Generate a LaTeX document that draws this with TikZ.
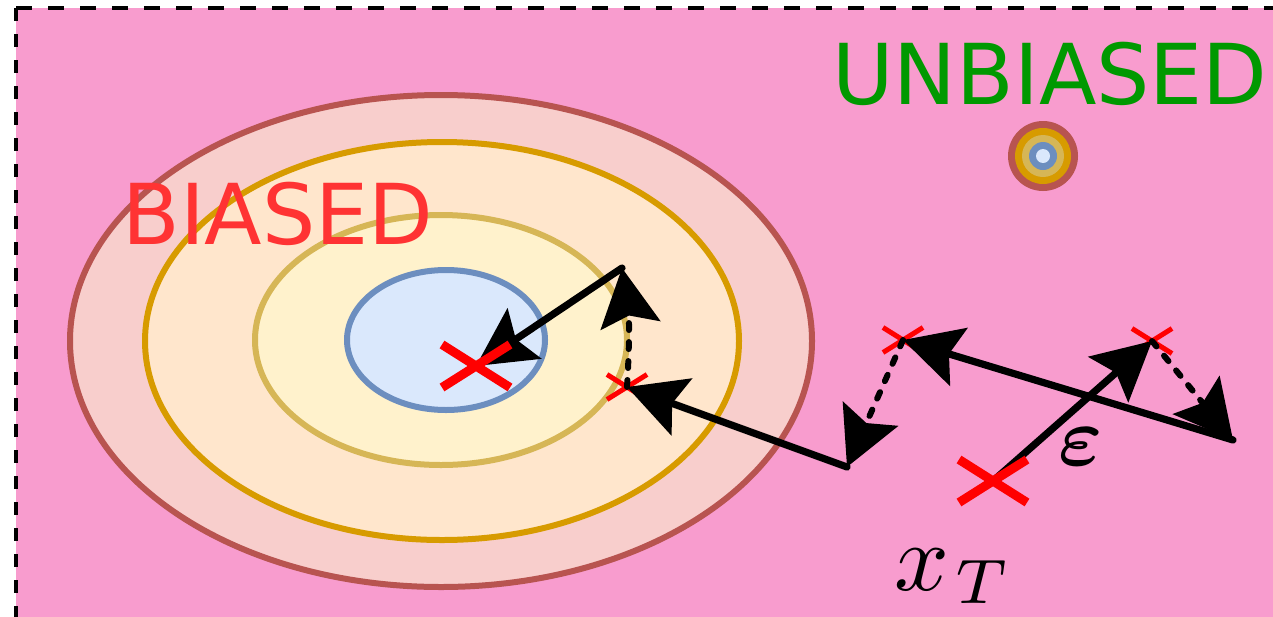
\documentclass[tikz,border=0pt]{standalone}
\usepackage{fontspec}
\newfontfamily\labelfont{DejaVu Sans}
\usetikzlibrary{arrows.meta}
\font\epsfont=cmmib10 at 42pt
\font\xfont=cmmi10 at 48pt
\font\tfont=cmmi7 at 31.5pt
\definecolor{bgpink}{RGB}{248,156,206}
\definecolor{redfill}{HTML}{F8CECC}\definecolor{redline}{HTML}{B85450}
\definecolor{orafill}{HTML}{FFE6CC}\definecolor{oraline}{HTML}{D79B00}
\definecolor{yelfill}{HTML}{FFF2CC}\definecolor{yelline}{HTML}{D6B656}
\definecolor{blufill}{HTML}{DAE8FC}\definecolor{bluline}{HTML}{6C8EBF}
\definecolor{biasred}{HTML}{FF3333}
\definecolor{unbgreen}{HTML}{009900}
\definecolor{crossred}{HTML}{FF0000}
\newcommand{\epslabel}{{\epsfont\char"22}}
\newcommand{\xtlabel}{{\xfont x}\hspace{3pt}\raisebox{-6.5pt}{\tfont T}}
\tikzset{
  ring/.style={line width=3pt},
  arr/.style={line width=3.6pt, line cap=round, -{Stealth[length=29pt,width=30pt,inset=5pt]}},
  dasharr/.style={line width=3pt, line cap=round, dash pattern=on 3.5pt off 6pt, -{Stealth[length=29pt,width=30pt,inset=5pt]}},
  bigcross/.style={crossred, line width=4.5pt},
  smallcross/.style={crossred, line width=2.5pt},
  biglabel/.style={font=\labelfont\fontsize{42}{50}\selectfont, inner sep=0pt},
  border/.style={line width=2.4pt},
}
\begin{document}
\begin{tikzpicture}[x=0.5pt,y=-0.5pt]
\clip (0,0) rectangle (1273,616);
\useasboundingbox (0,0) rectangle (1273,616);
\fill[white] (0,0) rectangle (1273,616);
\fill[bgpink] (16,8) rectangle (1300,640);
\draw[border, dash pattern=on 8pt off 8pt] (16,8) -- (1300,8);
\draw[border, dash pattern=on 6.5pt off 6.5pt] (16,8) -- (16,640);

% biased ellipses
\draw[ring, redline, fill=redfill] (441,341) ellipse [x radius=371, y radius=246];
\draw[ring, oraline, fill=orafill] (442,341) ellipse [x radius=297, y radius=199];
\draw[ring, yelline, fill=yelfill] (441,340) ellipse [x radius=186, y radius=125];
\draw[ring, bluline, fill=blufill] (446,340) ellipse [x radius=99, y radius=70];

% unbiased target
\fill[redline] (1043,156) circle [radius=35];
\fill[oraline] (1043,156) circle [radius=28];
\fill[yelline] (1043,156) circle [radius=21];
\fill[bluline] (1043,156) circle [radius=14];
\fill[blufill] (1043,156) circle [radius=7];

\node[biglabel, text=biasred] (biased) at (278,214) {BIASED};
\node[biglabel, text=unbgreen] (unbiased) at (1050,74) {UNBIASED};

% points
\coordinate (cA) at (476,366);
\coordinate (cB) at (627,387);
\coordinate (cC) at (622,268);
\coordinate (cD) at (847,467);
\coordinate (cE) at (903,340);
\coordinate (cF) at (1233,440);
\coordinate (cG) at (1152,341);
\coordinate (cH) at (993,481);

% small crosses
\draw[smallcross] (cB) ++(-20,-12.5) -- ++(40,25) (cB) ++(-20,12.5) -- ++(40,-25);
\draw[smallcross] (cE) ++(-20,-12.5) -- ++(40,25) (cE) ++(-20,12.5) -- ++(40,-25);
\draw[smallcross] (cG) ++(-20,-12.5) -- ++(40,25) (cG) ++(-20,12.5) -- ++(40,-25);

% arrows
\draw[arr] (cH) -- (cG);
\draw[dasharr] (cG) -- (cF);
\draw[arr] (cF) -- (cE);
\draw[dasharr] (cE) -- (cD);
\draw[arr] (cD) -- (cB);
\draw[dasharr] (cB) to[bend right=6] (cC);
\draw[arr] (cC) -- (cA);

% big crosses
\draw[bigcross] (cA) ++(-34,-21.5) -- ++(68,43) (cA) ++(-34,21.5) -- ++(68,-43);
\draw[bigcross] (cH) ++(-34,-21.5) -- ++(68,43) (cH) ++(-34,21.5) -- ++(68,-43);

% labels
\node[inner sep=0pt] (eps) at (1081,447) {\epslabel};
\node[anchor=base west, inner sep=0pt] (xt) at (894,590) {\xtlabel};
\end{tikzpicture}
\end{document}
